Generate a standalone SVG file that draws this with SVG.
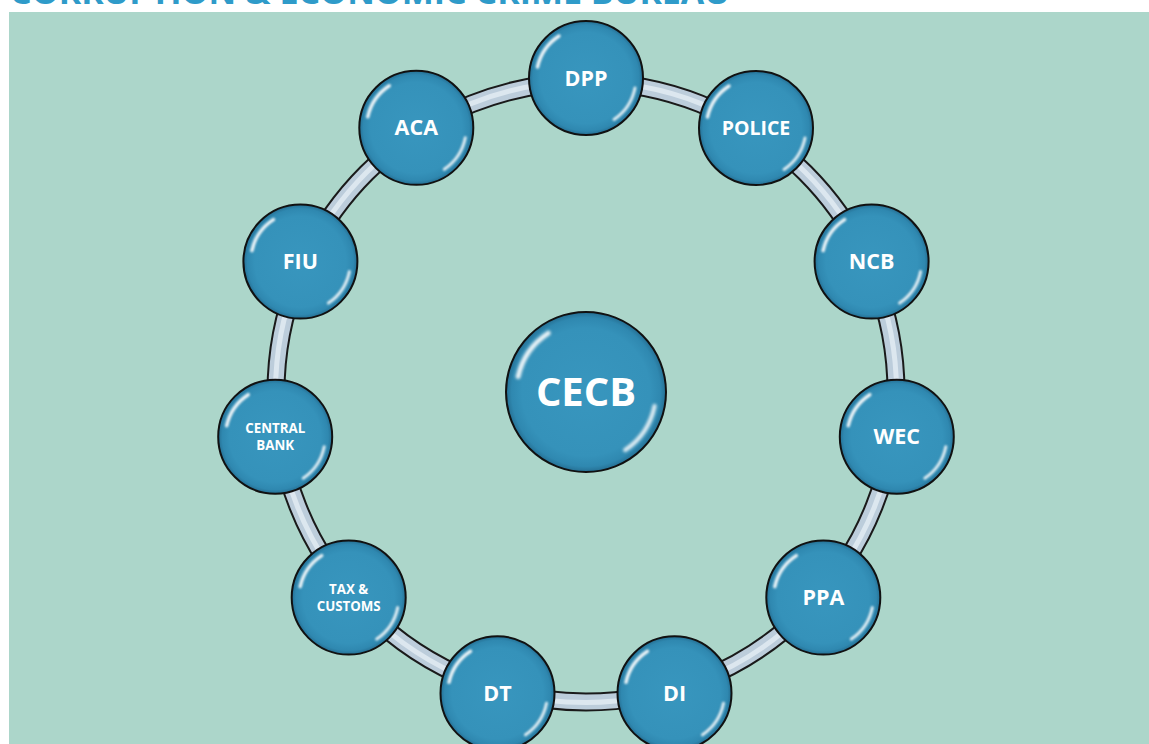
<svg xmlns="http://www.w3.org/2000/svg" width="1149" height="744" viewBox="0 0 1149 744">
<style>
.bg{fill:#acd6ca}
.title{font-family:"Open Sans","Liberation Sans",sans-serif;font-weight:bold;font-size:32px;fill:#2f9bc9}
.node{fill:url(#ball);stroke:#111;stroke-width:2}
.lbl{font-family:"Open Sans","Noto Sans","Liberation Sans",sans-serif;font-weight:bold;fill:#fff;text-anchor:middle}
.l20{font-size:21.5px}
.l13{font-size:13.3px}
.gl{fill:none;stroke:#fff;stroke-linecap:round;filter:url(#blur)}
</style>
<defs>
<radialGradient id="ball" cx="50%" cy="50%" r="50%">
<stop offset="0" stop-color="#3896be"/>
<stop offset="0.8" stop-color="#3592ba"/>
<stop offset="0.93" stop-color="#2f88b0"/>
<stop offset="1" stop-color="#256f93"/>
</radialGradient>
<filter id="blur" x="-20%" y="-20%" width="140%" height="140%">
<feGaussianBlur stdDeviation="1.2"/>
</filter>
<g id="gloss">
<path class="gl" d="M-48.5,-11 A50,50 0 0 1 -27,-42" stroke-width="3.5" opacity="0.9"/>
<path class="gl" d="M49,10 A50,50 0 0 1 28,41.5" stroke-width="3" opacity="0.85"/>
</g>
</defs>
<rect class="bg" x="9" y="12" width="1140" height="732"/>
<text class="title" x="10" y="4" textLength="720" lengthAdjust="spacingAndGlyphs">CORRUPTION &amp; ECONOMIC CRIME BUREAU</text>
<g id="connectors">
<circle cx="586" cy="392" r="310" fill="none" stroke="#1a1a1a" stroke-width="19"/>
<circle cx="586" cy="392" r="310" fill="none" stroke="#bccddb" stroke-width="15"/>
<circle cx="586" cy="392" r="310.5" fill="none" stroke="#dce7ef" stroke-width="5"/>
</g>
<g id="node-cecb" transform="translate(586,392)">
<circle class="node" r="80"/>
<use href="#gloss" transform="scale(1.4)"/>
<text class="lbl" y="14" style="font-size:40px">CECB</text>
</g>
<g id="node-dpp" transform="translate(586,78)">
<circle class="node" r="57"/><use href="#gloss"/>
<text class="lbl l20" y="7.5">DPP</text>
</g>
<g id="node-police" transform="translate(756,128)">
<circle class="node" r="57"/><use href="#gloss"/>
<text class="lbl l20" y="7" style="font-size:19.5px">POLICE</text>
</g>
<g id="node-ncb" transform="translate(871.6,261.6)">
<circle class="node" r="57"/><use href="#gloss"/>
<text class="lbl l20" y="7.5">NCB</text>
</g>
<g id="node-wec" transform="translate(896.8,436.7)">
<circle class="node" r="57"/><use href="#gloss"/>
<text class="lbl l20" y="7.5">WEC</text>
</g>
<g id="node-ppa" transform="translate(823.3,597.6)">
<circle class="node" r="57"/><use href="#gloss"/>
<text class="lbl l20" y="7.5">PPA</text>
</g>
<g id="node-di" transform="translate(674.5,693.3)">
<circle class="node" r="57"/><use href="#gloss"/>
<text class="lbl l20" y="7.5">DI</text>
</g>
<g id="node-dt" transform="translate(497.5,693.3)">
<circle class="node" r="57"/><use href="#gloss"/>
<text class="lbl l20" y="7.5">DT</text>
</g>
<g id="node-tax" transform="translate(348.7,597.6)">
<circle class="node" r="57"/><use href="#gloss"/>
<text class="lbl l13" y="-4">TAX &amp;</text>
<text class="lbl l13" y="13">CUSTOMS</text>
</g>
<g id="node-centralbank" transform="translate(275.2,436.7)">
<circle class="node" r="57"/><use href="#gloss"/>
<text class="lbl l13" y="-4">CENTRAL</text>
<text class="lbl l13" y="13">BANK</text>
</g>
<g id="node-fiu" transform="translate(300.4,261.6)">
<circle class="node" r="57"/><use href="#gloss"/>
<text class="lbl l20" y="7.5">FIU</text>
</g>
<g id="node-aca" transform="translate(416.3,127.8)">
<circle class="node" r="57"/><use href="#gloss"/>
<text class="lbl l20" y="7.5">ACA</text>
</g>
</svg>
